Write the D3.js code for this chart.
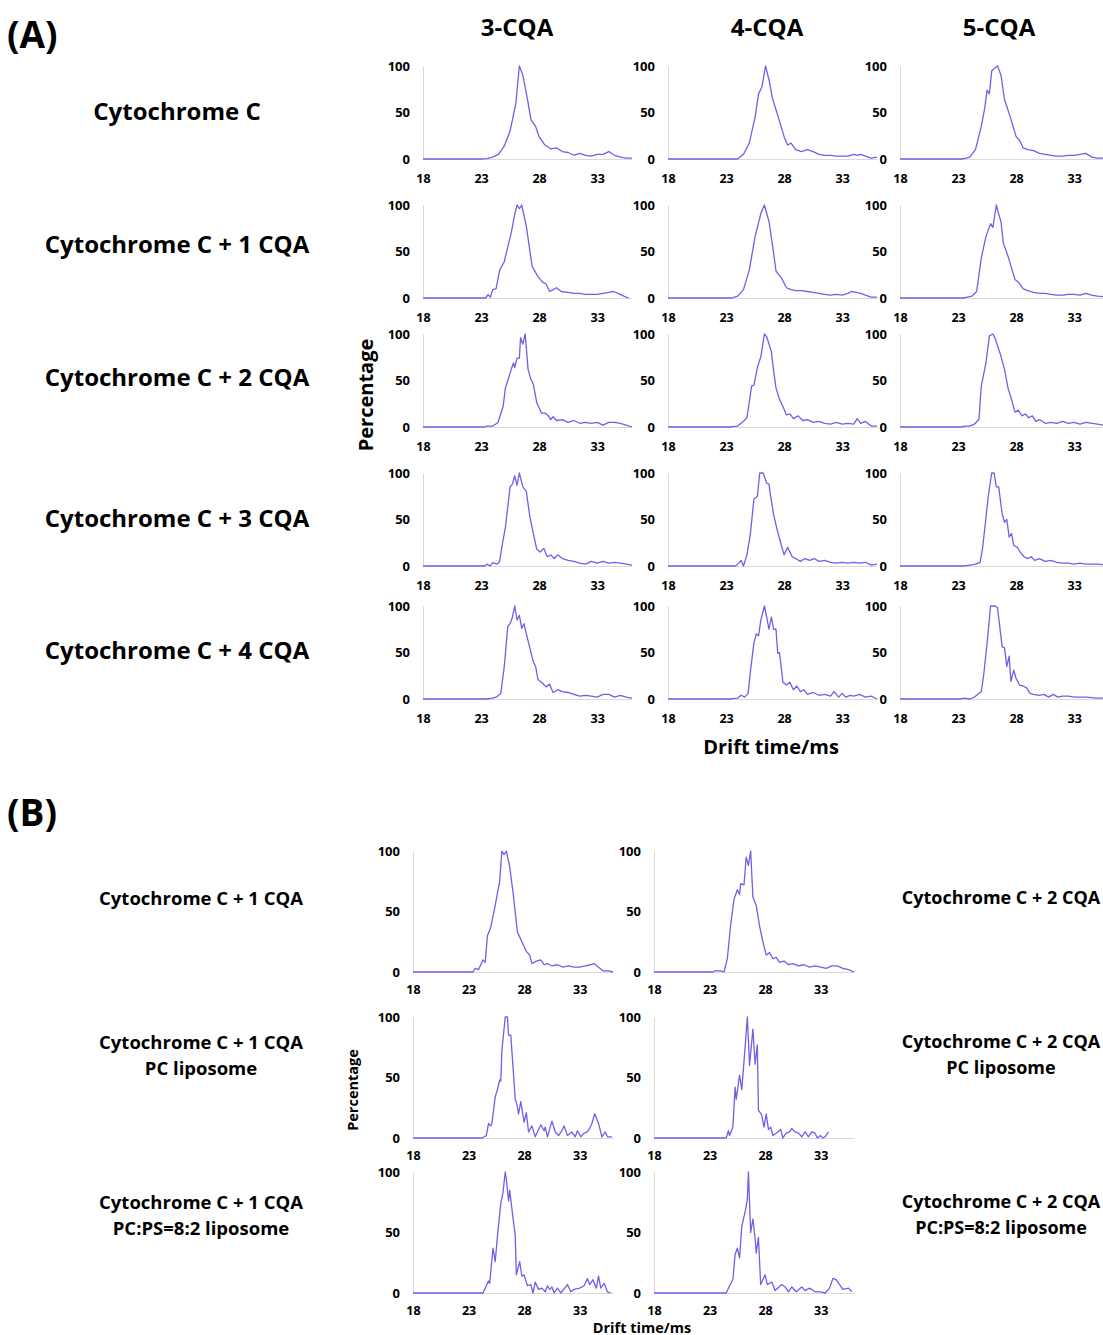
<!DOCTYPE html>
<html lang="en">
<head>
	<meta charset="UTF-8">
	<title>Drift time profiles - cytochrome C with CQA</title>
	<script src="https://cdn.jsdelivr.net/npm/d3@7/dist/d3.min.js"></script>
	<style>
		body {
			margin: 0;
			background: #fff;
		}
		svg {
			background: #fff;
			font-family: "Open Sans", sans-serif;
			font-weight: 700;
		}
		.axis path {
			stroke: #d9d9d9;
			stroke-width: 1;
		}
		.axis text {
			fill: #000;
			font-family: "Open Sans", sans-serif;
			font-weight: 700;
		}
		.trace {
			fill: none;
			stroke: #7060e8;
			stroke-width: 1.3;
			stroke-linejoin: round;
		}
	</style>
</head>
<body>
<script>
	// tick labels and row / column labels
	var xTicks = [18, 23, 28, 33];
	var yTicks = [0, 50, 100];
	var colHeadsA = ["3-CQA", "4-CQA", "5-CQA"];
	var rowLabelsA = ["Cytochrome C", "Cytochrome C + 1 CQA", "Cytochrome C + 2 CQA", "Cytochrome C + 3 CQA", "Cytochrome C + 4 CQA"];
	var rowLabelsB1 = [["Cytochrome C + 1 CQA"], ["Cytochrome C + 1 CQA", "PC liposome"], ["Cytochrome C + 1 CQA", "PC:PS=8:2 liposome"]];
	var rowLabelsB2 = [["Cytochrome C + 2 CQA"], ["Cytochrome C + 2 CQA", "PC liposome"], ["Cytochrome C + 2 CQA", "PC:PS=8:2 liposome"]];

	// drift time (ms), percentage  -- (A) rows: Cyt C + n CQA, cols: 3-, 4-, 5-CQA
	var a0_3 = [[18,0],[23,0],[23.5,0.5],[24,2],[24.5,5],[25,14],[25.5,30],[26,60],[26.3,100],[26.6,90],[27,64],[27.3,42],[27.7,35],[28,24],[28.5,15],[29,11],[29.5,12],[30,8],[30.5,7],[31,4],[31.5,6],[32,4],[32.5,3],[33,5],[33.5,5],[34,8],[34.5,4],[35,2],[35.5,1],[36,1]];
	var a0_4 = [[18,0],[24,0],[24.5,5],[25,17],[25.5,45],[25.8,70],[26.1,78],[26.4,100],[26.7,85],[27,65],[27.5,45],[28,24],[28.3,15],[28.6,17],[29,10],[29.5,8],[30,10],[30.5,8],[31,5],[31.5,4],[32,4],[32.5,3],[33,3],[33.5,3],[34,5],[34.3,4],[34.6,5],[35,3],[35.5,1],[36,2]];
	var a0_5 = [[18,0],[23.3,0],[23.7,1],[24,2],[24.5,10],[25,35],[25.3,55],[25.5,74],[25.7,70],[25.9,95],[26.2,98],[26.4,100],[26.7,90],[27,64],[27.5,45],[28,24],[28.3,20],[28.6,12],[29,10],[29.5,9],[30,6],[30.5,5],[31,4],[31.5,3],[32,3],[32.5,4],[33,4],[33.5,5],[34,6],[34.5,2],[35,1],[36,1]];

	var a1_3 = [[18,0],[23.4,0],[23.6,3.5],[23.8,1],[24,9],[24.3,10],[24.6,30],[25,39],[25.3,55],[25.6,70],[25.9,90],[26.1,100],[26.3,96],[26.5,100],[26.9,77],[27.4,34],[27.9,23],[28.3,17],[28.6,15],[28.9,7],[29.2,9],[29.5,11],[29.9,7],[30.5,6],[31,5],[31.5,5],[32,4],[32.5,4],[33,4],[33.5,5],[34,6],[34.4,7],[34.8,5],[35.3,2],[35.7,0]];
	var a1_4 = [[18,0],[23.4,0],[23.6,0.5],[24,2],[24.5,9],[25,30],[25.5,66],[26,91],[26.3,100],[26.7,82],[27.1,48],[27.3,29],[27.8,21],[28.2,11],[28.6,9],[29,8],[29.5,8],[30,7],[30.5,6],[31,5],[31.5,4],[32,3],[32.5,4],[33,3],[33.5,5],[33.8,7],[34.2,6],[34.6,5],[35,3],[35.5,1],[36,1]];
	var a1_5 = [[18,0],[23.5,0],[23.8,1],[24.2,2],[24.6,7],[25,43],[25.4,66],[25.8,80],[26,76],[26.3,100],[26.5,90],[26.7,82],[26.9,59],[27.3,45],[27.9,20],[28.2,17],[28.6,10],[29,8],[29.5,6],[30,5],[30.5,5],[31,4],[31.5,3],[32,3],[32.5,4],[33,4],[33.5,3],[34,5],[34.5,3],[35,2],[36,1]];

	var a2_3 = [[18,0],[23.3,0],[23.5,1],[24,1],[24.45,4.6],[24.9,22],[25.1,42],[25.6,62],[25.8,69],[25.9,64],[26.1,74],[26.3,74],[26.4,96],[26.6,89],[26.8,100],[27.05,62],[27.3,51],[27.5,46],[27.8,26],[28.2,15],[28.5,15],[28.8,12],[29,8],[29.2,11],[29.5,7],[30,8],[30.5,5],[31,7],[31.5,4],[32,5],[32.5,4],[33,5],[33.5,2],[34,5],[34.5,5],[35,4],[35.5,2],[36,0]];
	var a2_4 = [[18,0],[23.4,0],[23.6,0.5],[24,1],[24.4,5],[24.8,10],[25.2,44],[25.4,45],[25.7,64],[26,76],[26.3,100],[26.5,97],[26.9,81],[27.1,60],[27.3,42],[27.6,30],[28,19],[28.2,13],[28.5,14],[28.8,9],[29.2,12],[29.6,7],[30,8],[30.5,5],[31,6],[31.5,4],[32,3],[32.5,5],[33,3],[33.5,4],[34,3],[34.3,9],[34.6,4],[35,6],[35.5,1],[36,1]];
	var a2_5 = [[18,0],[23.3,0],[23.6,1],[24,1],[24.4,3],[24.8,8],[25,44],[25.4,69],[25.7,98],[26,100],[26.2,95],[26.7,76],[27,62],[27.3,42],[27.6,30],[27.9,16],[28.2,18],[28.5,12],[28.8,14],[29.1,10],[29.4,12],[29.7,6],[30,8],[30.5,4],[31,5],[31.5,4],[32,6],[32.5,4],[33,5],[33.5,3],[34,5],[35,3],[36,1]];

	var a3_3 = [[18,0],[23.3,0],[23.5,2],[23.8,0],[24,3.6],[24.4,2],[24.6,5],[24.8,21],[25.1,42],[25.5,85],[25.7,88],[25.9,97],[26.1,87],[26.3,100],[26.6,85],[26.9,80],[27.2,53],[27.5,35],[27.8,18],[28.1,15],[28.4,19],[28.7,10],[29,12],[29.3,8],[29.6,12],[30,8],[30.5,6],[31,5],[31.5,3],[32,2],[32.5,5],[33,3],[33.5,5],[34,3],[34.5,4],[35,3],[35.5,2],[36,1]];
	var a3_4 = [[18,0],[23.8,0],[24,2],[24.3,6],[24.5,0],[24.8,12],[25.1,35],[25.4,72],[25.7,75],[25.9,100],[26.2,100],[26.5,89],[26.7,88],[26.8,78],[27.1,55],[27.4,39],[27.7,25],[28,12],[28.3,20],[28.7,10],[29,8],[29.4,5],[29.8,8],[30.2,6],[30.6,8],[31,5],[31.5,6],[32,4],[32.5,3],[33,4],[33.5,3],[34,4],[34.5,3],[35,4],[35.5,1],[36,2]];
	var a3_5 = [[18,0],[23.5,0],[24,1],[24.5,2],[24.9,4],[25.1,18],[25.3,40],[25.6,75],[25.9,100],[26.1,100],[26.3,85],[26.5,85],[26.8,56],[27,47],[27.2,50],[27.4,31],[27.6,35],[27.8,22],[28.1,20],[28.4,14],[28.7,10],[29,8],[29.3,10],[29.6,6],[30,8],[30.5,5],[31,6],[31.5,4],[32,3],[32.5,3],[33,2],[33.5,3],[34,2],[35,2],[36,1]];

	var a4_3 = [[18,0],[23.5,0],[24,1],[24.3,2],[24.7,6],[25,35],[25.3,78],[25.5,81],[25.7,88],[25.9,100],[26.1,85],[26.3,90],[26.5,76],[26.7,81],[26.9,70],[27.2,55],[27.5,40],[27.7,35],[27.9,21],[28.3,17],[28.6,13],[28.9,16],[29.2,7],[29.6,10],[30,8],[30.5,7],[31,5],[31.5,3],[32,4],[32.5,3],[33,2],[33.5,5],[34,5],[34.5,2],[35,4],[35.5,2],[36,1]];
	var a4_4 = [[18,0],[23.4,0],[23.6,0.5],[24,1],[24.3,4],[24.6,2],[24.9,6],[25.1,30],[25.4,60],[25.6,70],[25.8,68],[26,85],[26.3,100],[26.5,88],[26.7,75],[26.9,88],[27.1,75],[27.3,75],[27.45,49],[27.6,50],[27.9,18],[28.2,15],[28.5,18],[28.8,10],[29.1,14],[29.4,8],[29.7,10],[30,5],[30.5,7],[31,4],[31.5,5],[32,3],[32.3,8],[32.7,2],[33,6],[33.3,2],[33.7,4],[34,3],[34.5,5],[35,2],[35.5,3],[36,0]];
	var a4_5 = [[18,0],[23.3,0],[23.5,1],[24,0],[24.4,2],[24.7,5],[25,8],[25.2,25],[25.5,60],[25.8,100],[26.2,100],[26.4,98],[26.8,56],[27,55],[27.2,35],[27.4,46],[27.55,19],[27.8,31],[28,22],[28.3,15],[28.6,14],[28.9,12],[29.2,6],[29.5,5],[30,4],[30.4,5],[30.8,2],[31.2,5],[31.6,2],[32,3],[32.5,3],[33,2],[34,2],[35,1],[36,1]];

	// (B) left col: + 1 CQA, right col: + 2 CQA; rows: none, PC, PC:PS=8:2
	var b0_1 = [[18,0],[23.4,0],[23.6,3],[23.9,2],[24.3,10],[24.5,8],[24.7,30],[25,37],[25.4,55],[25.8,75],[26,100],[26.2,97],[26.4,100],[26.7,87],[27,66],[27.4,33],[27.8,25],[28.2,17],[28.5,14],[28.7,7],[29.1,9],[29.5,10],[29.8,6],[30.1,7],[30.5,5],[31,6],[31.5,4],[32,5],[32.5,4],[33,4],[33.5,5],[34,6],[34.3,7],[34.7,4],[35.1,1],[35.6,1],[36,0]];
	var b0_2 = [[18,0],[23.3,0],[23.5,1],[24,1],[24.3,0],[24.6,11],[24.9,39],[25.2,60],[25.5,68],[25.7,64],[25.8,73],[26.1,72],[26.3,95],[26.5,88],[26.7,100],[26.9,62],[27.2,55],[27.5,38],[27.8,25],[28.1,14],[28.4,16],[28.7,11],[29,12],[29.3,8],[29.7,9],[30.1,6],[30.5,7],[31,5],[31.5,6],[32,4],[32.5,5],[33,4],[33.5,3],[34,5],[34.5,5],[35,3],[35.5,2],[36,0]];

	var b1_1 = [[18,0],[24.2,0],[24.4,1],[24.6,2],[24.8,12],[25,10],[25.1,12],[25.4,34],[25.6,40],[25.8,48],[25.9,47],[26,72],[26.3,100],[26.5,100],[26.6,85],[26.8,85],[27,59],[27.2,32],[27.35,28],[27.5,20],[27.7,30],[28,13],[28.2,21],[28.4,5],[28.7,10],[29,1],[29.5,11],[29.8,6],[29.9,9],[30.1,1],[30.2,4],[30.5,14],[30.8,5],[31.1,2],[31.4,6],[31.6,10],[31.9,2],[32.3,5],[32.6,1],[32.8,6],[33.1,1],[33.4,4],[33.7,5],[33.9,8],[34.1,12],[34.35,20],[34.7,12],[35,1],[35.3,5],[35.5,1],[35.9,1]];
	var b1_2 = [[18,0],[24.5,0],[24.7,6],[24.8,2],[25.1,9],[25.3,42],[25.4,32],[25.7,52],[25.9,40],[26.2,75],[26.4,100],[26.6,60],[26.9,90],[27.1,61],[27.3,77],[27.4,23],[27.7,19],[27.9,9],[28.1,20],[28.3,7],[28.5,9],[28.7,2],[29,4],[29.4,7],[29.6,0],[29.9,4],[30.2,5],[30.4,8],[30.7,5],[31,4],[31.3,1],[31.6,5],[31.9,1],[32.2,5],[32.5,4],[32.7,0],[33,2],[33.2,0],[33.4,1],[33.7,5]];

	var b2_1 = [[18,0],[24.3,0],[24.5,4],[24.8,10],[24.9,8],[25.2,37],[25.4,26],[25.6,47],[25.9,74],[26.1,83],[26.3,100],[26.4,94],[26.6,76],[26.7,85],[27,62],[27.2,48],[27.3,15],[27.6,26],[27.8,14],[28,15],[28.3,6],[28.6,7],[28.8,0],[29,9],[29.3,3],[29.6,4],[29.9,1],[30.1,6],[30.3,3],[30.5,5],[30.7,0],[31,4],[31.3,0],[31.9,7],[32.2,1],[32.5,3],[33,4],[33.4,6],[33.7,12],[33.9,7],[34.2,11],[34.5,4],[34.7,14],[34.9,4],[35.2,8],[35.5,1],[35.8,0]];
	var b2_2 = [[18,0],[24.5,0],[24.8,6],[25.1,11],[25.3,32],[25.5,37],[25.7,29],[25.9,55],[26.2,67],[26.4,77],[26.5,100],[26.7,50],[26.9,61],[27.1,45],[27.2,33],[27.4,46],[27.6,7],[28,15],[28.2,7],[28.6,9],[28.9,2],[29.5,7],[29.8,5],[30.1,1],[30.4,5],[30.8,1],[31.3,5],[31.6,2],[32,4],[32.5,1],[33,1],[33.4,0],[33.8,4],[34.1,12],[34.4,11],[34.7,7],[35,3],[35.5,4],[35.8,1]];

	var gridA = [[a0_3, a0_4, a0_5], [a1_3, a1_4, a1_5], [a2_3, a2_4, a2_5], [a3_3, a3_4, a3_5], [a4_3, a4_4, a4_5]];
	var gridB = [[b0_1, b0_2], [b1_1, b1_2], [b2_1, b2_2]];

	var width = 1103,
		height = 1335;

	var svg = d3.select("body").append("svg")
		.attr("width", width)
		.attr("height", height);

	var line = d3.line();

	function drawPanel(x0, y0, w, h, data, fs, xpad) {
		var x = d3.scaleLinear().domain([18, 36]).range([x0, x0 + w]);
		var y = d3.scaleLinear().domain([0, 100]).range([y0 + h, y0]);

		var g = svg.append("g");

		g.append("g")
			.attr("class", "axis")
			.attr("transform", "translate(0," + (y0 + h) + ")")
			.call(d3.axisBottom(x).tickValues(xTicks).tickSize(0).tickPadding(xpad))
			.selectAll("text").style("font-size", (fs - 0.5) + "px");

		g.append("g")
			.attr("class", "axis")
			.attr("transform", "translate(" + x0 + ",0)")
			.call(d3.axisLeft(y).tickValues(yTicks).tickSize(0).tickPadding(13))
			.selectAll("text").style("font-size", fs + "px");

		g.append("path")
			.datum(data)
			.attr("class", "trace")
			.attr("d", line.x(function (d) { return x(d[0]); }).y(function (d) { return y(d[1]); }));
	}

	// (A) grid
	var colXA = [423, 668, 900],
		topA = [66, 205, 334, 473, 606];
	gridA.forEach(function (row, i) {
		row.forEach(function (data, j) {
			drawPanel(colXA[j], topA[i], 209, 93, data, 13, 15);
		});
	});

	// (B) grid
	var colXB = [413, 654],
		topB = [851, 1017, 1172];
	gridB.forEach(function (row, i) {
		row.forEach(function (data, j) {
			drawPanel(colXB[j], topB[i], 200, 121, data, 13, 13);
		});
	});

	// labels
	function label(txt, x, y, size, rot) {
		var t = svg.append("text")
			.attr("x", x)
			.attr("y", y)
			.attr("text-anchor", "middle")
			.attr("dominant-baseline", "central")
			.style("font-size", size + "px")
			.text(txt);
		if (rot) t.attr("transform", "rotate(-90," + x + "," + y + ")");
		return t;
	}

	svg.append("text").attr("x", 7).attr("y", 33).attr("dominant-baseline", "central")
		.style("font-size", "37px").text("(A)");
	svg.append("text").attr("x", 7).attr("y", 811).attr("dominant-baseline", "central")
		.style("font-size", "37px").text("(B)");

	var headX = [517, 767, 999];
	colHeadsA.forEach(function (d, i) { label(d, headX[i], 26, 24); });

	var rowYA = [110, 243, 376, 517, 649];
	rowLabelsA.forEach(function (d, i) { label(d, 177, rowYA[i], 24); });

	label("Percentage", 365, 395, 20, true);
	label("Drift time/ms", 771, 746, 20);

	var rowYB = [897, 1054, 1214];
	function blockLabel(lines, x, yc, size) {
		lines.forEach(function (d, k) {
			label(d, x, yc + (k - (lines.length - 1) / 2) * 26, size);
		});
	}
	rowLabelsB1.forEach(function (d, i) { blockLabel(d, 201, rowYB[i], 18.5); });
	rowLabelsB2.forEach(function (d, i) { blockLabel(d, 1001, rowYB[i], 18); });

	label("Percentage", 352, 1090, 14.5, true);
	label("Drift time/ms", 642, 1327, 14.5);
</script>
</body>
</html>
